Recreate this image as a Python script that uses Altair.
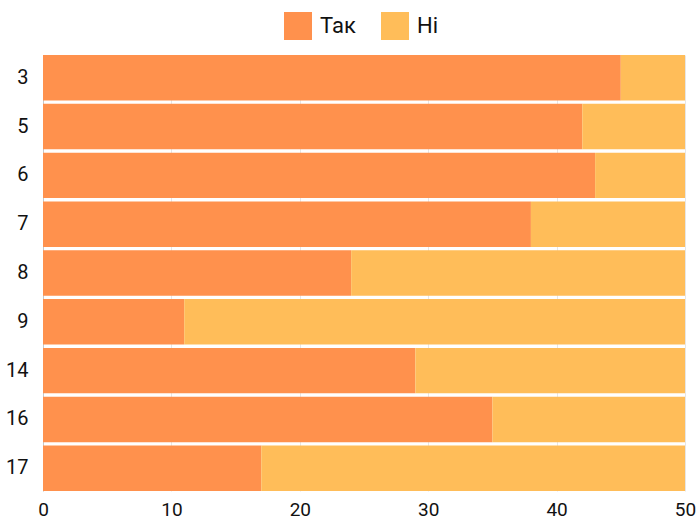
import altair as alt
import pandas as pd

# Share of "yes" / "no" answers per group (each row sums to 50)
groups = ["3", "5", "6", "7", "8", "9", "14", "16", "17"]
yes_values = [45, 42, 43, 38, 24, 11, 29, 35, 17]
no_values = [5, 8, 7, 12, 26, 39, 21, 15, 33]
answers = ["Так", "Ні"]
colors = ["#FF914D", "#FFBD59"]

rows = []
for g, y, n in zip(groups, yes_values, no_values):
    rows.append({"group": g, "answer": "Так", "value": y, "order": 0})
    rows.append({"group": g, "answer": "Ні", "value": n, "order": 1})
df = pd.DataFrame(rows)

font = "Roboto"

chart = (
    alt.Chart(df)
    .mark_bar()
    .encode(
        y=alt.Y(
            "group:N",
            sort=groups,
            scale=alt.Scale(paddingInner=0.07, paddingOuter=0),
            axis=alt.Axis(
                title=None,
                ticks=False,
                domain=True,
                domainColor="#c8c8c8",
                labelFontSize=20,
                labelColor="#111111",
                labelFont=font,
                labelPadding=15,
            ),
        ),
        x=alt.X(
            "value:Q",
            stack="zero",
            scale=alt.Scale(domain=[0, 50], nice=False),
            axis=alt.Axis(
                title=None,
                values=[0, 10, 20, 30, 40, 50],
                ticks=False,
                domain=False,
                grid=True,
                gridColor="#e6e6e6",
                labelFontSize=19,
                labelColor="#111111",
                labelFont=font,
                labelPadding=9,
                labelFlush=False,
            ),
        ),
        color=alt.Color(
            "answer:N",
            sort=answers,
            scale=alt.Scale(domain=answers, range=colors),
            legend=alt.Legend(
                title=None,
                orient="none",
                legendX=241,
                legendY=-43,
                direction="horizontal",
                symbolType="square",
                symbolSize=784,
                symbolStrokeWidth=0,
                labelFontSize=22,
                labelFont=font,
                labelColor="#111111",
                labelOffset=8,
                columnPadding=25,
            ),
        ),
        order=alt.Order("order:Q"),
    )
    .properties(
        width=642,
        height=436,
        autosize=alt.AutoSizeParams(type="none"),
        padding={"left": 43, "top": 55, "right": 14, "bottom": 31},
    )
    .configure_view(stroke=None)
)

chart.save("out.html", embed_options={"renderer": "svg", "actions": False})
